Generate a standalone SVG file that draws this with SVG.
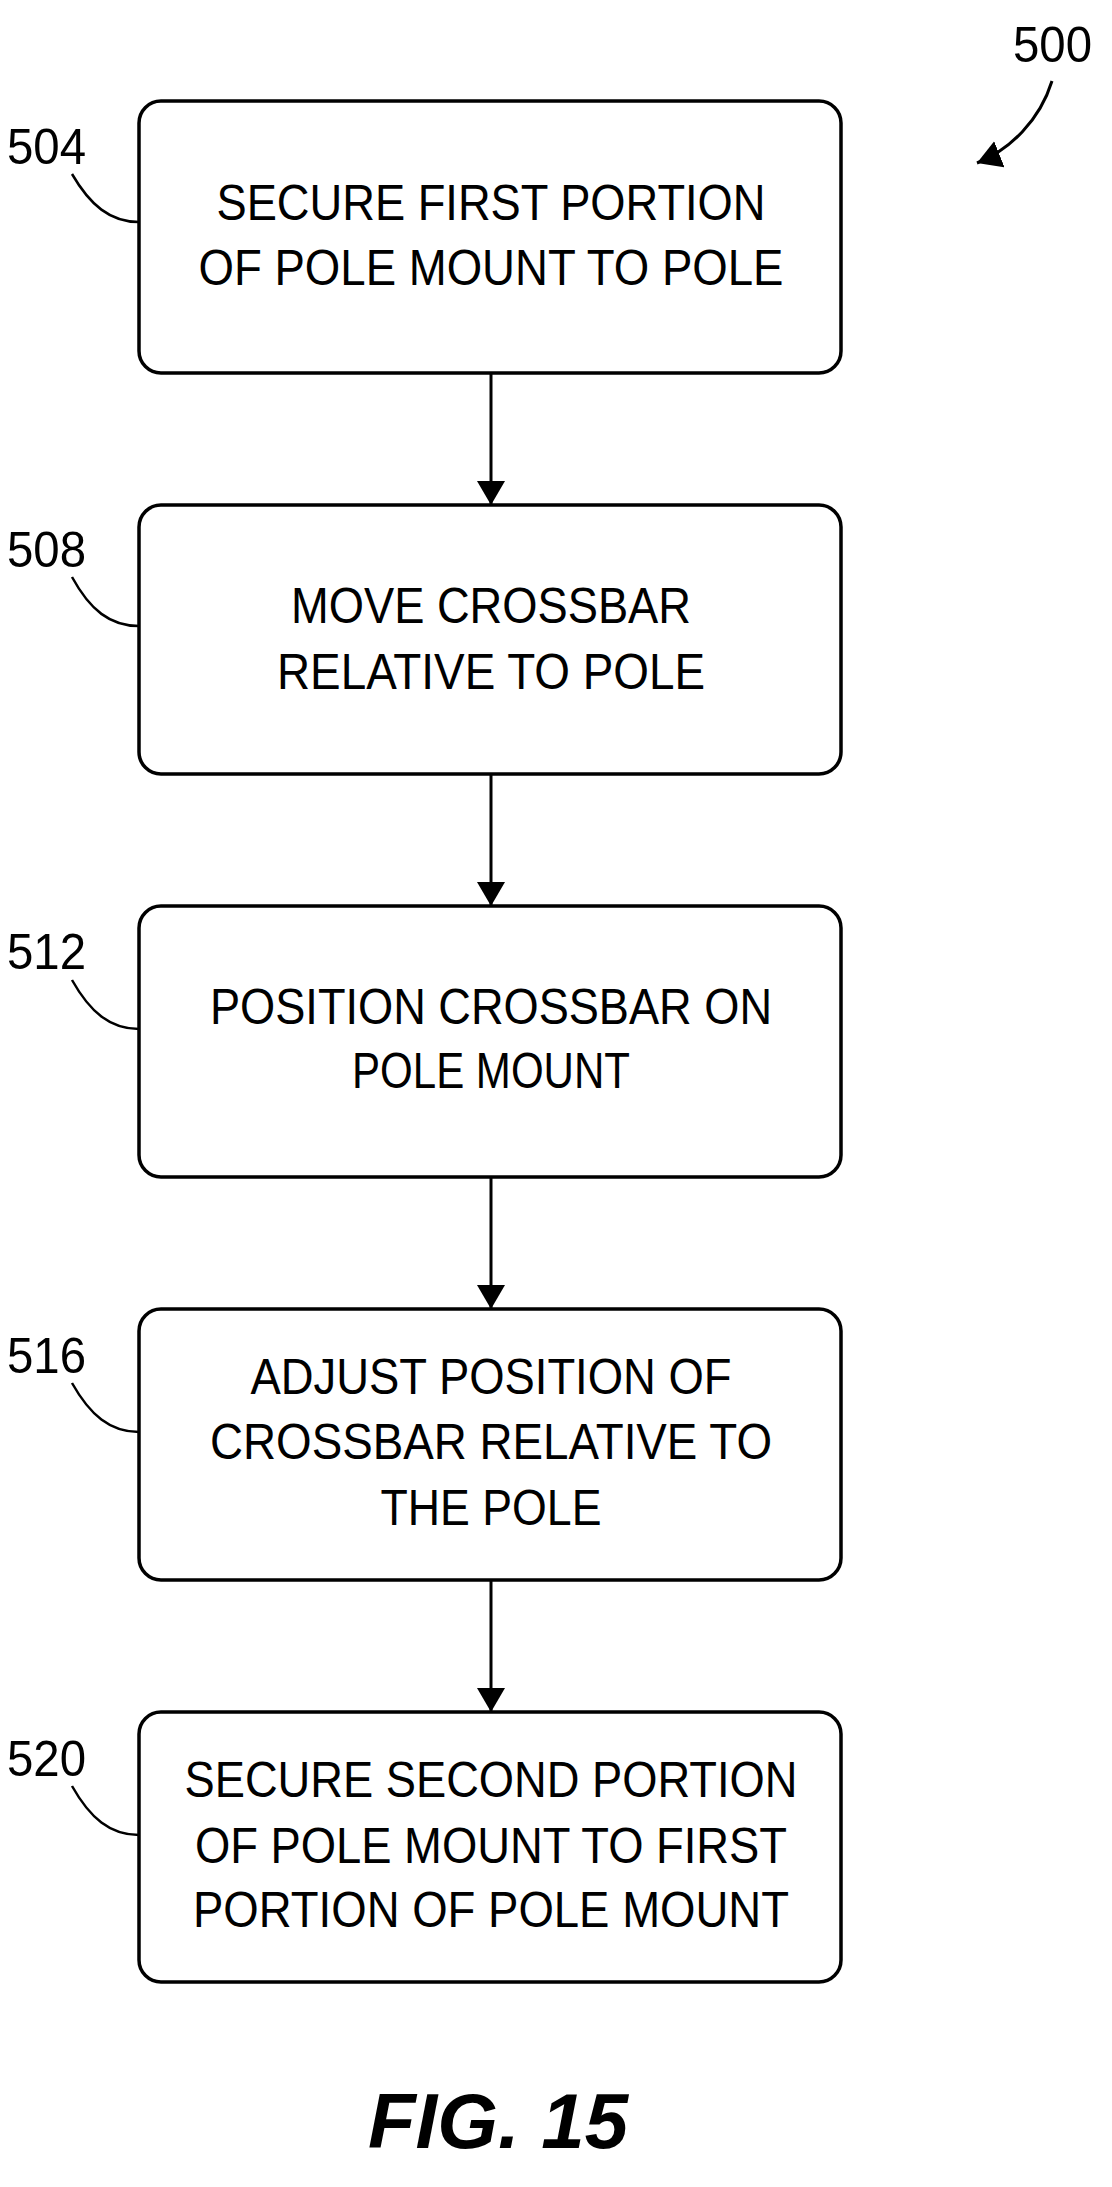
<svg xmlns="http://www.w3.org/2000/svg" width="1112" height="2187" viewBox="0 0 1112 2187">
<style>
.box{fill:#fff;stroke:#000;stroke-width:3.5}
.t{font-family:"Liberation Sans",Arial,sans-serif;font-size:50px;text-anchor:middle}
.l{font-family:"Liberation Sans",Arial,sans-serif;font-size:50px}
.c{fill:none;stroke:#000;stroke-width:2.5}
.a{fill:none;stroke:#000;stroke-width:3}
</style>
<defs><marker id="ah" markerWidth="10" markerHeight="10" refX="9" refY="5" orient="auto" markerUnits="userSpaceOnUse" viewBox="0 0 10 10"><path d="M0,0L10,5L0,10z"/></marker>
<marker id="ah2" markerWidth="24" markerHeight="28" refX="24" refY="14" orient="auto" markerUnits="userSpaceOnUse" viewBox="0 0 24 28"><path d="M0,0L24,14L0,28z"/></marker></defs>
<g id="connectors">
<line class="a" x1="491" y1="373" x2="491" y2="505" marker-end="url(#ah2)"/>
<line class="a" x1="491" y1="774" x2="491" y2="906" marker-end="url(#ah2)"/>
<line class="a" x1="491" y1="1177" x2="491" y2="1309" marker-end="url(#ah2)"/>
<line class="a" x1="491" y1="1580" x2="491" y2="1712" marker-end="url(#ah2)"/>
<path class="c" d="M72,174 C90,205 110,222 139,222"/>
<path class="c" d="M72,577 C90,610 110,626 139,626"/>
<path class="c" d="M72,980 C90,1012 110,1029 139,1029"/>
<path class="c" d="M72,1383 C90,1415 110,1432 139,1432"/>
<path class="c" d="M72,1786 C90,1818 110,1835 139,1835"/>
<path class="a" d="M1052,81 C1040,120 1010,150 977,163" marker-end="url(#ah2)"/>
</g>
<g id="n504"><rect class="box" x="139" y="101" width="702" height="272" rx="22"/>
<text class="t" x="491" y="220" textLength="549" lengthAdjust="spacingAndGlyphs">SECURE FIRST PORTION</text>
<text class="t" x="491" y="285" textLength="585" lengthAdjust="spacingAndGlyphs">OF POLE MOUNT TO POLE</text>
<text class="l" x="7" y="164" textLength="79" lengthAdjust="spacingAndGlyphs">504</text></g>
<g id="n508"><rect class="box" x="139" y="505" width="702" height="269" rx="22"/>
<text class="t" x="491" y="623" textLength="400" lengthAdjust="spacingAndGlyphs">MOVE CROSSBAR</text>
<text class="t" x="491" y="689" textLength="428" lengthAdjust="spacingAndGlyphs">RELATIVE TO POLE</text>
<text class="l" x="7" y="567" textLength="79" lengthAdjust="spacingAndGlyphs">508</text></g>
<g id="n512"><rect class="box" x="139" y="906" width="702" height="271" rx="22"/>
<text class="t" x="491" y="1024" textLength="562" lengthAdjust="spacingAndGlyphs">POSITION CROSSBAR ON</text>
<text class="t" x="491" y="1088" textLength="278" lengthAdjust="spacingAndGlyphs">POLE MOUNT</text>
<text class="l" x="7" y="969" textLength="79" lengthAdjust="spacingAndGlyphs">512</text></g>
<g id="n516"><rect class="box" x="139" y="1309" width="702" height="271" rx="22"/>
<text class="t" x="491" y="1394" textLength="481" lengthAdjust="spacingAndGlyphs">ADJUST POSITION OF</text>
<text class="t" x="491" y="1459" textLength="562" lengthAdjust="spacingAndGlyphs">CROSSBAR RELATIVE TO</text>
<text class="t" x="491" y="1525" textLength="221" lengthAdjust="spacingAndGlyphs">THE POLE</text>
<text class="l" x="7" y="1373" textLength="79" lengthAdjust="spacingAndGlyphs">516</text></g>
<g id="n520"><rect class="box" x="139" y="1712" width="702" height="270" rx="22"/>
<text class="t" x="491" y="1797" textLength="613" lengthAdjust="spacingAndGlyphs">SECURE SECOND PORTION</text>
<text class="t" x="491" y="1863" textLength="592" lengthAdjust="spacingAndGlyphs">OF POLE MOUNT TO FIRST</text>
<text class="t" x="491" y="1927" textLength="596" lengthAdjust="spacingAndGlyphs">PORTION OF POLE MOUNT</text>
<text class="l" x="7" y="1776" textLength="79" lengthAdjust="spacingAndGlyphs">520</text></g>
<g id="n500"><text class="l" x="1013" y="62" textLength="79" lengthAdjust="spacingAndGlyphs">500</text></g>
<text x="498" y="2148" font-family="Liberation Sans,Arial,sans-serif" font-size="78" font-weight="bold" font-style="italic" text-anchor="middle">FIG. 15</text>
</svg>
